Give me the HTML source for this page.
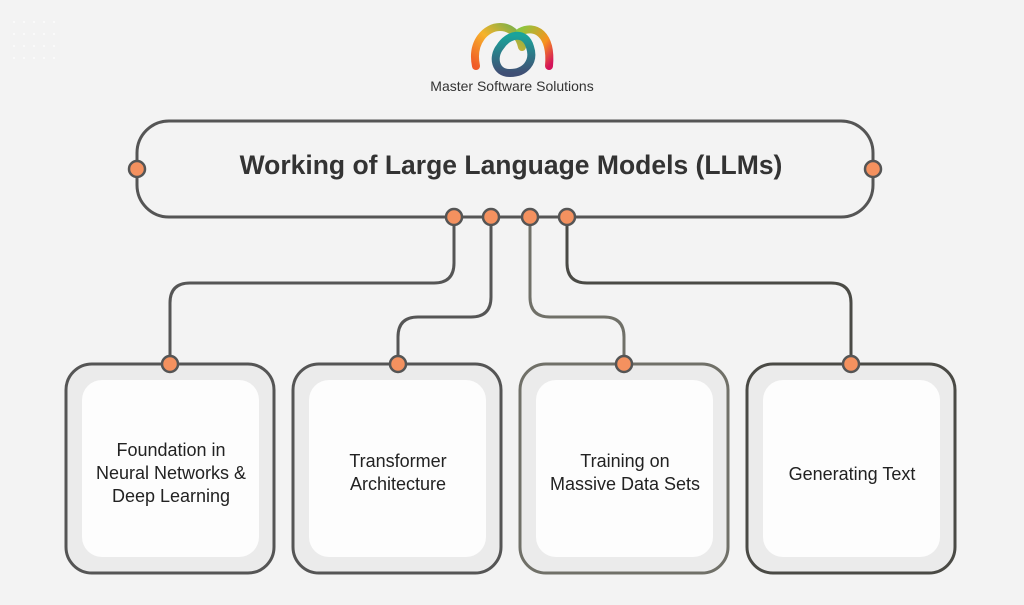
<!DOCTYPE html>
<html><head><style>
body{margin:0;background:#f3f3f3;}
svg{display:block;font-family:"Liberation Sans",sans-serif;}
</style></head><body>
<svg width="1024" height="605" viewBox="0 0 1024 605">
<defs>
<linearGradient id="g1" x1="0" y1="1" x2="1" y2="0"><stop offset="0" stop-color="#f05a28"/><stop offset="0.5" stop-color="#f7b32b"/><stop offset="1" stop-color="#6ab04c"/></linearGradient>
<linearGradient id="g2" x1="0" y1="0" x2="1" y2="1"><stop offset="0" stop-color="#8cc63f"/><stop offset="0.6" stop-color="#f7931e"/><stop offset="1" stop-color="#d4145a"/></linearGradient>
<linearGradient id="g3" x1="0" y1="0" x2="0" y2="1"><stop offset="0" stop-color="#1aa39a"/><stop offset="1" stop-color="#3f4f75"/></linearGradient>
</defs>
<rect width="1024" height="605" fill="#f3f3f3"/>
<g fill="#fff" opacity="0.8">
<circle cx="14" cy="22" r="1"/><circle cx="24" cy="22" r="1"/><circle cx="34" cy="22" r="1"/><circle cx="44" cy="22" r="1"/><circle cx="54" cy="22" r="1"/>
<circle cx="14" cy="34" r="1"/><circle cx="24" cy="34" r="1"/><circle cx="34" cy="34" r="1"/><circle cx="44" cy="34" r="1"/><circle cx="54" cy="34" r="1"/>
<circle cx="14" cy="46" r="1"/><circle cx="24" cy="46" r="1"/><circle cx="34" cy="46" r="1"/><circle cx="44" cy="46" r="1"/><circle cx="54" cy="46" r="1"/>
<circle cx="14" cy="58" r="1"/><circle cx="24" cy="58" r="1"/><circle cx="34" cy="58" r="1"/><circle cx="44" cy="58" r="1"/><circle cx="54" cy="58" r="1"/>
</g>
<!-- logo -->
<path d="M476 66 C471 42 486 27 500 27 C512 27 520 37 522 47" fill="none" stroke="url(#g1)" stroke-width="8" stroke-linecap="round"/>
<path d="M520 32 C535 24 552 34 549 66" fill="none" stroke="url(#g2)" stroke-width="8" stroke-linecap="round"/>
<path d="M510 73 C495 73 492 57 500 47 C508 34 525 30 530 47 C535 62 525 73 510 73 Z" fill="none" stroke="url(#g3)" stroke-width="8"/>
<text x="512" y="91" text-anchor="middle" font-size="14" fill="#333">Master Software Solutions</text>
<!-- top box -->
<rect x="137" y="121" width="736" height="96" rx="32" fill="#f3f3f3" stroke="#555" stroke-width="3"/>
<text x="511" y="174" text-anchor="middle" font-size="26.5" font-weight="bold" fill="#333">Working of Large Language Models (LLMs)</text>
<!-- connectors -->
<g fill="none" stroke-width="3">
<path d="M454 217 V263 Q454 283 434 283 H190 Q170 283 170 303 V364" stroke="#555"/>
<path d="M491 217 V297 Q491 317 471 317 H418 Q398 317 398 337 V364" stroke="#555"/>
<path d="M530 217 V297 Q530 317 550 317 H604 Q624 317 624 337 V364" stroke="#707068"/>
<path d="M567 217 V263 Q567 283 587 283 H831 Q851 283 851 303 V364" stroke="#4a4a45"/>
</g>
<!-- cards -->
<g stroke-width="3">
<rect x="66" y="364" width="208" height="209" rx="26" fill="#ebebeb" stroke="#555"/>
<rect x="293" y="364" width="208" height="209" rx="26" fill="#ebebeb" stroke="#555"/>
<rect x="520" y="364" width="208" height="209" rx="26" fill="#ebebeb" stroke="#707068"/>
<rect x="747" y="364" width="208" height="209" rx="26" fill="#ebebeb" stroke="#4a4a45"/>
</g>
<g fill="#fdfdfd">
<rect x="82" y="380" width="177" height="177" rx="20"/>
<rect x="309" y="380" width="177" height="177" rx="20"/>
<rect x="536" y="380" width="177" height="177" rx="20"/>
<rect x="763" y="380" width="177" height="177" rx="20"/>
</g>
<g font-size="18" fill="#222" text-anchor="middle">
<text x="171" y="456">Foundation in</text>
<text x="171" y="479">Neural Networks &amp;</text>
<text x="171" y="502">Deep Learning</text>
<text x="398" y="467">Transformer</text>
<text x="398" y="490">Architecture</text>
<text x="625" y="467">Training on</text>
<text x="625" y="490">Massive Data Sets</text>
<text x="852" y="480">Generating Text</text>
</g>
<!-- dots -->
<g fill="#f4915f" stroke="#555" stroke-width="2.5">
<circle cx="137" cy="169" r="8"/><circle cx="873" cy="169" r="8"/>
<circle cx="454" cy="217" r="8"/><circle cx="491" cy="217" r="8"/><circle cx="530" cy="217" r="8"/><circle cx="567" cy="217" r="8"/>
<circle cx="170" cy="364" r="8"/><circle cx="398" cy="364" r="8"/><circle cx="624" cy="364" r="8"/><circle cx="851" cy="364" r="8"/>
</g>
</svg>
</body></html>
